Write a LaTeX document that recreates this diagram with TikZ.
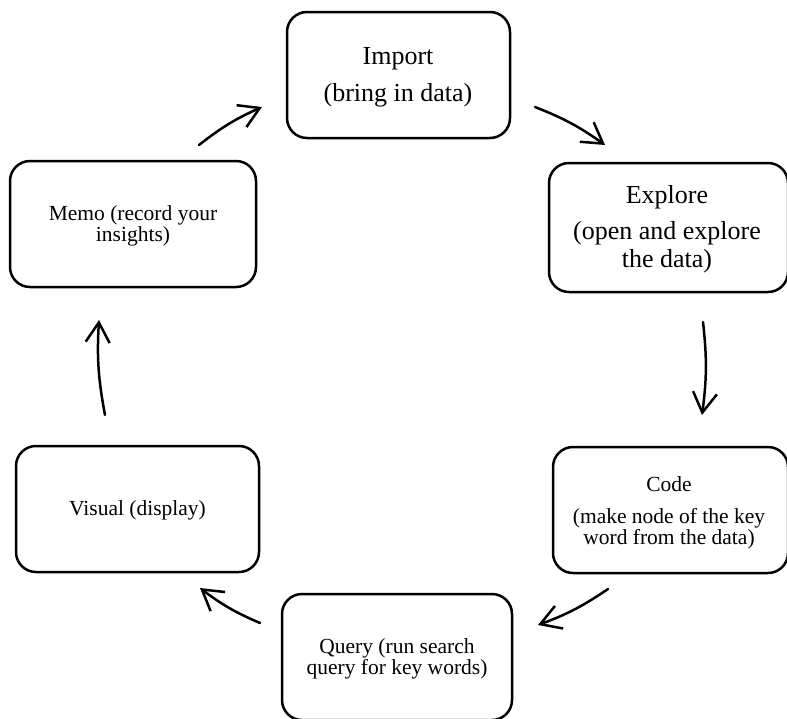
\documentclass[tikz,border=0pt]{standalone}
\usepackage{fontspec}
\setmainfont{Liberation Serif}
\usetikzlibrary{arrows.meta}
\begin{document}
\begin{tikzpicture}[x=1pt,y=-1pt,
  stage/.style={draw, line width=2.5pt, rounded corners=20pt, inner sep=0pt},
  big/.style={align=center, font=\fontsize{26}{27.3}\selectfont, inner sep=0pt},
  small/.style={align=center, font=\fontsize{21.5}{21.7}\selectfont, inner sep=0pt},
  flow/.style={line width=2.5pt, line cap=round,
    -{Straight Barb[length=20pt,width=24pt]}},
]
\useasboundingbox (0,0) rectangle (787,718);
\clip (0,0) rectangle (787,718);

% stage boxes
\node[stage, minimum width=223pt, minimum height=126pt] (import) at (398.5,75) {};
\node[stage, minimum width=239pt, minimum height=129pt] (explore) at (668.5,227.5) {};
\node[stage, minimum width=235pt, minimum height=126pt] (code) at (670.5,510) {};
\node[stage, minimum width=230pt, minimum height=126pt] (query) at (397,657) {};
\node[stage, minimum width=243pt, minimum height=126pt] (visual) at (137.5,509) {};
\node[stage, minimum width=246pt, minimum height=126pt] (memo) at (133,224) {};

% stage labels
\node[big] (importtxt) at (398,77) {Import\\[9.4pt](bring in data)};
\node[big] (exploretxt) at (667,229) {Explore\\[9.4pt](open and explore\\the data)};
\node[small] (codetxt) at (669,513) {Code\\[10pt](make node of the key\\word from the data)};
\node[small] (querytxt) at (397,659) {Query (run search\\query for key words)};
\node[small] (visualtxt) at (137.5,510) {Visual (display)};
\node[small] (memotxt) at (133,226) {Memo (record your\\insights)};

% arrow ends
\coordinate (a1s) at (199,145); \coordinate (a1e) at (262,107);
\coordinate (a2s) at (535,107); \coordinate (a2e) at (605,145);
\coordinate (a3s) at (703,322); \coordinate (a3e) at (702,415);
\coordinate (a4s) at (608,589); \coordinate (a4e) at (538,625);
\coordinate (a5s) at (260,623); \coordinate (a5e) at (200,588);
\coordinate (a6s) at (105,415); \coordinate (a6e) at (99,320);

% cycle arrows
\draw[flow] (a1s) to[bend left=7] (a1e);
\draw[flow] (a2s) to[bend left=7] (a2e);
\draw[flow] (a3s) to[bend left=7] (a3e);
\draw[flow] (a4s) to[bend left=7] (a4e);
\draw[flow] (a5s) to[bend left=7] (a5e);
\draw[flow] (a6s) to[bend left=7] (a6e);
\end{tikzpicture}
\end{document}
